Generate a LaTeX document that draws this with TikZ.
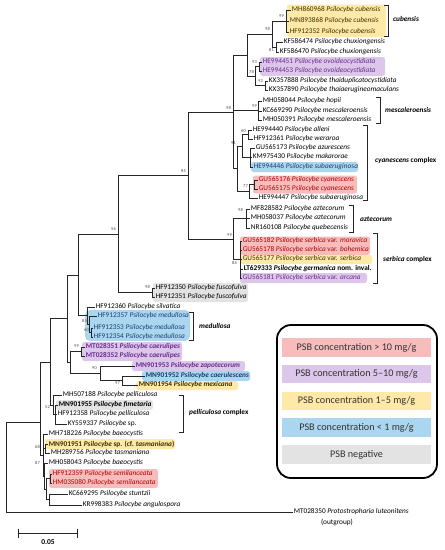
\documentclass[tikz,border=0pt]{standalone}
\usepackage{fontspec}
\setmainfont{Carlito}
\definecolor{hlred}{HTML}{F7BDBD}
\definecolor{hlpur}{HTML}{DCC6EA}
\definecolor{hlyel}{HTML}{FFE9A8}
\definecolor{hlblu}{HTML}{AAD6F0}
\definecolor{hlgry}{HTML}{E3E3E3}
\definecolor{txred}{HTML}{B00000}
\definecolor{txpur}{HTML}{6A2C91}
\definecolor{txblu}{HTML}{1F3F6E}
\definecolor{txyel}{HTML}{3A3000}
\newcommand\Ps[1]{\textit{Psilocybe #1}}
\tikzset{
  br/.style={line width=0.9pt, draw=black!85},
  leaf/.style={anchor=west, inner sep=0.6pt, font=\fontsize{7.3}{8.5}\selectfont},
  bs/.style={anchor=east, inner sep=0pt, font=\fontsize{4.5}{5}\selectfont, text=black!70},
  hl/.style={rounded corners=2.5pt},
  brk/.style={line width=0.9pt, draw=black!85},
  clade/.style={anchor=west, inner sep=0pt, font=\fontsize{7.3}{8.5}\selectfont\bfseries},
  legbox/.style={minimum width=149pt, minimum height=18.5pt, inner sep=0pt, font=\fontsize{10.2}{12}\selectfont, text=black!80},
}
\begin{document}
\begin{tikzpicture}[x=1pt,y=-1pt]
\useasboundingbox (0,0) rectangle (445,550);
% highlights
\fill[hlyel,hl] (287,4.5) rectangle (386,37);
\fill[hlpur,hl] (260,57) rectangle (385,76);
\fill[hlblu,hl] (251,162) rectangle (358,172);
\fill[hlred,hl] (253,175.5) rectangle (357,193.5);
\fill[hlred,hl] (240,236.5) rectangle (370,255);
\fill[hlyel,hl] (240,255) rectangle (372,264);
\fill[hlpur,hl] (240,273) rectangle (367,283);
\fill[hlgry,hl] (153,283) rectangle (248,302);
\fill[hlblu,rounded corners=5pt] (85,310) rectangle (190,341);
\fill[hlpur,hl] (82,342) rectangle (182,361);
\fill[hlpur,hl] (132,361) rectangle (245,371);
\fill[hlblu,hl] (142,371) rectangle (250,381);
\fill[hlyel,hl] (136,381) rectangle (238,390);
\fill[hlgry,hl] (56,400) rectangle (153,410);
\fill[hlyel,hl] (45,439) rectangle (175,449);
\fill[hlred,hl] (49,469) rectangle (158,488);
% leaves
\node[leaf,text=txyel] (c1) at (291,10) {MH860968 \Ps{cubensis}};
\node[leaf,text=txyel] (c2) at (289,21) {MN893868 \Ps{cubensis}};
\node[leaf,text=txyel] (c3) at (289,32) {HF912352 \Ps{cubensis}};
\node[leaf] (x1) at (283,42) {KF586474 \Ps{chuxiongensis}};
\node[leaf] (x2) at (279,52) {KF586470 \Ps{chuxiongensis}};
\node[leaf,text=txpur] (o1) at (262,62) {HE994451 \Ps{ovoideocystidiata}};
\node[leaf,text=txpur] (o2) at (262,71) {HE994453 \Ps{ovoideocystidiata}};
\node[leaf] (t1) at (268,81) {KX357888 \Ps{thaiduplicatocystidiata}};
\node[leaf] (t2) at (268,90) {KX357890 \Ps{thaiaerugineomaculans}};
\node[leaf] (m1) at (262,101) {MH058044 \Ps{hopii}};
\node[leaf] (m2) at (262,111) {KC669290 \Ps{mescaleroensis}};
\node[leaf] (m3) at (262,120) {MH050391 \Ps{mescaleroensis}};
\node[leaf] (a1) at (252,130) {HE994440 \Ps{alleni}};
\node[leaf] (a2) at (253,139) {HF912361 \Ps{weraroa}};
\node[leaf] (a3) at (255,148) {GU565173 \Ps{azurescens}};
\node[leaf] (a4) at (252,157) {KM975430 \Ps{makarorae}};
\node[leaf,text=txblu] (a5) at (253,167) {HE994446 \Ps{subaeruginosa}};
\node[leaf,text=txred] (a6) at (258,180) {GU565176 \Ps{cyanescens}};
\node[leaf,text=txred] (a7) at (258,189) {GU565175 \Ps{cyanescens}};
\node[leaf] (a8) at (258,198) {HE994447 \Ps{subaeruginosa}};
\node[leaf] (z1) at (250,209) {MF828582 \Ps{aztecorum}};
\node[leaf] (z2) at (250,218) {MH058037 \Ps{aztecorum}};
\node[leaf] (z3) at (250,228) {NR160108 \Ps{quebecensis}};
\node[leaf,text=txred] (s1) at (242,241) {GU565182 \Ps{serbica} var. \textit{moravica}};
\node[leaf,text=txred] (s2) at (242,250) {GU565178 \Ps{serbica} var. \textit{bohemica}};
\node[leaf,text=txyel] (s3) at (242,259) {GU565177 \Ps{serbica} var. \textit{serbica}};
\node[leaf] (s4) at (243,269) {\textbf{LT629333 \Ps{germanica} nom. inval.}};
\node[leaf,text=txpur] (s5) at (242,278) {GU565181 \Ps{serbica} var. \textit{arcana}};
\node[leaf] (f1) at (155,288) {HF912350 \Ps{fuscofulva}};
\node[leaf] (f2) at (155,297) {HF912351 \Ps{fuscofulva}};
\node[leaf] (v1) at (95,307) {HF912360 \Ps{silvatica}};
\node[leaf,text=txblu] (d1) at (97,316) {HF912357 \Ps{medullosa}};
\node[leaf,text=txblu] (d2) at (93,328) {HF912353 \Ps{medullosa}};
\node[leaf,text=txblu] (d3) at (93,337) {HF912354 \Ps{medullosa}};
\node[leaf,text=txpur] (e1) at (85,347) {\textbf{MT028351 \Ps{caerulipes}}};
\node[leaf,text=txpur] (e2) at (85,356) {\textbf{MT028352 \Ps{caerulipes}}};
\node[leaf,text=txpur] (p1) at (135,366) {\textbf{MN901953 \Ps{zapotecorum}}};
\node[leaf,text=txblu] (p2) at (145,376) {\textbf{MN901952 \Ps{caerulescens}}};
\node[leaf,text=txyel] (p3) at (138,385) {\textbf{MN901954 \Ps{mexicana}}};
\node[leaf] (q1) at (62,395) {MH507188 \Ps{pelliculosa}};
\node[leaf] (q2) at (58,405) {\textbf{MN901955 \Ps{fimetaria}}};
\node[leaf] (q3) at (57,414) {HF912358 \Ps{pelliculosa}};
\node[leaf] (q4) at (67,424) {KY559337 \textit{Psilocybe} sp.};
\node[leaf] (b1) at (48,434) {MH718226 \Ps{baeocystis}};
\node[leaf,text=txyel] (b2) at (48,444) {\textbf{MN901951 \textit{Psilocybe} sp. (cf. \textit{tasmaniana})}};
\node[leaf] (b3) at (50,453) {MH289756 \Ps{tasmaniana}};
\node[leaf] (b4) at (48,463) {MH058043 \Ps{baeocystis}};
\node[leaf,text=txred] (b5) at (52,474) {HF912359 \Ps{semilanceata}};
\node[leaf,text=txred] (b6) at (52,483) {HM035080 \Ps{semilanceata}};
\node[leaf] (b7) at (68,494) {KC669295 \Ps{stuntzii}};
\node[leaf] (b8) at (82,505) {KR998383 \Ps{angulospora}};
\node[leaf] (og) at (293,512) {MT028350 \textit{Protostropharia luteonitens}};
\node[leaf,anchor=center] (ogt) at (337,522) {(outgroup)};
% internal nodes
\coordinate (nC) at (286,21);
\coordinate (nX) at (276,47);
\coordinate (n3) at (272,34);
\coordinate (nO) at (259,66.5);
\coordinate (nT) at (265,85.5);
\coordinate (n6) at (255,76);
\coordinate (n7) at (247,55);
\coordinate (nM) at (258,110.5);
\coordinate (n60) at (248,134.5);
\coordinate (nP) at (250,157);
\coordinate (n91) at (242,146);
\coordinate (nCy) at (254,184.5);
\coordinate (n77) at (249,191);
\coordinate (nCC) at (237,168.5);
\coordinate (n8) at (233,112);
\coordinate (nZ) at (246,218.5);
\coordinate (nS) at (240,259.5);
\coordinate (n99) at (233,239);
\coordinate (n85) at (188,175.5);
\coordinate (nF) at (152,292.5);
\coordinate (n56) at (118,234);
\coordinate (nD60) at (91,332.5);
\coordinate (nD85) at (89,324);
\coordinate (nSV) at (87,315.5);
\coordinate (nB) at (78,275);
\coordinate (nE99) at (81,351.5);
\coordinate (nP97) at (122,380.5);
\coordinate (nP90) at (100,373);
\coordinate (nE) at (70,362);
\coordinate (nCc) at (67,318.5);
\coordinate (nQ2) at (55,414.5);
\coordinate (nQ) at (53,405);
\coordinate (nDd) at (50,362);
\coordinate (nB68) at (45,448.5);
\coordinate (nSe) at (50,478.5);
\coordinate (nSt) at (49,499.5);
\coordinate (nL1) at (46,489);
\coordinate (n87) at (44,476);
\coordinate (nL) at (43,455);
\coordinate (nG) at (40,422);
\coordinate (root) at (6,470);
% branches
\foreach \p/\c in {nC/c1,nC/c2,nC/c3,nX/x1,nX/x2,nO/o1,nO/o2,nT/t1,nT/t2,nM/m1,nM/m2,nM/m3,
  n60/a1,n60/a2,nP/a3,nP/a4,nP/a5,nCy/a6,nCy/a7,n77/a8,nZ/z1,nZ/z2,nZ/z3,
  nS/s1,nS/s2,nS/s3,nS/s4,nS/s5,nF/f1,nF/f2,nSV/v1,nD85/d1,nD60/d2,nD60/d3,
  nE99/e1,nE99/e2,nP90/p1,nP97/p2,nP97/p3,nQ/q1,nQ2/q2,nQ2/q3,nQ2/q4,
  nL/b1,nB68/b2,nB68/b3,n87/b4,nSe/b5,nSe/b6,nSt/b7,nSt/b8,root/og}
  {\draw[br] (\p) |- (\c.west);}
\foreach \p/\c in {n3/nC,n3/nX,n6/nO,n6/nT,n7/n3,n7/n6,n91/n60,n91/nP,n77/nCy,nCC/n91,nCC/n77,
  n8/n7,n8/nM,n8/nCC,n99/nZ,n99/nS,n85/n8,n85/n99,n56/n85,n56/nF,nD85/nD60,nSV/nD85,
  nB/n56,nB/nSV,nP90/nP97,nE/nE99,nE/nP90,nCc/nB,nCc/nE,nQ/nQ2,nDd/nCc,nDd/nQ,
  nL1/nSe,nL1/nSt,n87/nL1,nL/nB68,nL/n87,nG/nDd,nG/nL,root/nG}
  {\draw[br] (\p) |- (\c);}
% bootstrap values
\node[bs] (bs1) at (284,16) {99};
\node[bs] (bs2) at (270,29) {98};
\node[bs] (bs3) at (274,50) {81};
\node[bs] (bs4) at (257,62) {93};
\node[bs] (bs5) at (254,72) {78};
\node[bs] (bs6) at (263,81) {92};
\node[bs] (bs7) at (231,108) {98};
\node[bs] (bs8) at (257,106) {99};
\node[bs] (bs9) at (246,131) {60};
\node[bs] (bs10) at (236,143) {91};
\node[bs] (bs11) at (248,186) {77};
\node[bs] (bs12) at (243,210) {98};
\node[bs] (bs13) at (232,235) {99};
\node[bs] (bs14) at (237,263) {86};
\node[bs] (bs15) at (186,171) {85};
\node[bs] (bs16) at (116,229) {56};
\node[bs] (bs17) at (150,287) {98};
\node[bs] (bs18) at (87,321) {85};
\node[bs] (bs19) at (89,330) {60};
\node[bs] (bs20) at (79,346) {99};
\node[bs] (bs21) at (97,368) {90};
\node[bs] (bs22) at (120,383) {97};
\node[bs] (bs23) at (50,407) {52};
\node[bs] (bs24) at (40,447) {68};
\node[bs] (bs25) at (40,463) {87};
% clade brackets
\draw[brk] (384,5) -- (388,5) -- (388,36) -- (384,36);
\node[clade] (lc1) at (393,19) {\textit{cubensis}};
\draw[brk] (376,97) -- (380,97) -- (380,123) -- (376,123);
\node[clade] (lc2) at (385,110) {\textit{mescaleroensis}};
\draw[brk] (363,125) -- (367,125) -- (367,200) -- (363,200);
\node[clade] (lc3) at (375,161) {\textit{cyanescens} complex};
\draw[brk] (349,205) -- (353,205) -- (353,232) -- (349,232);
\node[clade] (lc4) at (360,219) {\textit{aztecorum}};
\draw[brk] (373,233) -- (377,233) -- (377,283) -- (373,283);
\node[clade] (lc5) at (383,260) {\textit{serbica} complex};
\draw[brk] (189,312) -- (193,312) -- (193,340) -- (189,340);
\node[clade] (lc6) at (199,326) {\textit{medullosa}};
\draw[brk] (179,395) -- (183,395) -- (183,432) -- (179,432);
\node[clade] (lc7) at (189,413) {\textit{pelliculosa} complex};
% scale bar
\coordinate (sb1) at (18,533);
\coordinate (sb2) at (77,533);
\draw[br] (sb1) -- (sb2);
\draw[br] ([yshift=-4.5pt]sb1) -- ([yshift=4.5pt]sb1);
\draw[br] ([yshift=-4.5pt]sb2) -- ([yshift=4.5pt]sb2);
\node[font=\fontsize{7.5}{8}\selectfont\bfseries, inner sep=0pt] (sbl) at (48,542) {0.05};
% legend
\draw[line width=1.8pt, rounded corners=14pt] (277,325) rectangle (437,478);
\node[legbox, fill=hlred] (k1) at (356.5,347.5) {PSB concentration > 10 mg/g};
\node[legbox, fill=hlpur] (k2) at (356.5,374) {PSB concentration 5–10 mg/g};
\node[legbox, fill=hlyel] (k3) at (356.5,401) {PSB concentration 1–5 mg/g};
\node[legbox, fill=hlblu] (k4) at (356.5,427.5) {PSB concentration < 1 mg/g};
\node[legbox, fill=hlgry] (k5) at (356.5,454.5) {PSB negative};
\end{tikzpicture}
\end{document}
